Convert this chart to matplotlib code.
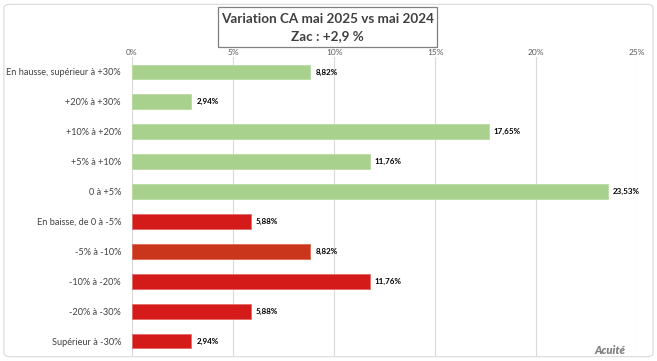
import matplotlib
matplotlib.use("Agg")
import matplotlib.pyplot as plt
from matplotlib.patches import FancyBboxPatch, Rectangle

categories = ['En hausse, supérieur à +30%', '+20% à +30%', '+10% à +20%', '+5% à +10%',
              '0 à +5%', 'En baisse, de 0 à -5%', '-5% à -10%', '-10% à -20%',
              '-20% à -30%', 'Supérieur à -30%']
values = [8.82, 2.94, 17.65, 11.76, 23.53, 5.88, 8.82, 11.76, 5.88, 2.94]
labels = ['8,82%', '2,94%', '17,65%', '11,76%', '23,53%', '5,88%', '8,82%', '11,76%', '5,88%', '2,94%']
colors = ['#A9D18E'] * 5 + ['#D51A1A', '#C9361B', '#D51A1A', '#D51A1A', '#D51A1A']
edges = ['#B9DBA2'] * 5 + ['#E46A6A', '#DC6A55', '#E46A6A', '#E46A6A', '#E46A6A']
xticks = [0, 5, 10, 15, 20, 25]

plt.rcParams['font.family'] = ['Lato', 'DejaVu Sans']

fig = plt.figure(figsize=(6.57, 3.61), dpi=100)
fig.patches.append(FancyBboxPatch((0.006, 0.012), 0.988, 0.976, boxstyle="round,pad=0,rounding_size=0.01",
                                  transform=fig.transFigure, fill=False, edgecolor='#D9D9D9', lw=0.8))

ax = fig.add_axes([0.201, 0.014, 0.769, 0.828])
y = range(len(categories))
ax.barh(y, values, height=0.5, color=colors, edgecolor=edges, linewidth=0.6, zorder=3)
for i, (v, t) in enumerate(zip(values, labels)):
    ax.text(v + 0.25, i, t, va='center', ha='left', fontsize=5.8, fontweight='bold', color='#000000')

ax.set_xlim(0, 25)
ax.set_ylim(len(categories) - 0.5, -0.5)
ax.set_xticks(xticks)
ax.set_xticklabels([f'{t}%' for t in xticks], fontsize=6, color='#595959')
ax.xaxis.tick_top()
ax.tick_params(axis='x', length=0, pad=0.5)
ax.set_yticks(list(y))
ax.set_yticklabels(categories, fontsize=6.6, color='#404040')
ax.tick_params(axis='y', length=0, pad=8)
ax.grid(axis='x', color='#D9D9D9', lw=0.8, zorder=0)
for s in ax.spines.values():
    s.set_visible(False)

# title box
fig.patches.append(Rectangle((218 / 657, 1 - 47 / 361), 219 / 657, 40 / 361, transform=fig.transFigure,
                             fill=False, edgecolor='#808080', lw=0.9))
fig.text(0.499, 1 - 23 / 361, 'Variation CA mai 2025 vs mai 2024', ha='center', va='baseline',
         fontsize=9.7, fontweight='bold', color='#404040')
fig.text(0.499, 1 - 40 / 361, 'Zac : +2,9 %', ha='center', va='baseline',
         fontsize=9.7, fontweight='bold', color='#404040')

fig.text(0.952, 0.03, 'Acuité', ha='right', va='center', fontsize=8,
         fontweight='heavy', style='italic', color='#808080')

fig.savefig('out.png', dpi=100)
